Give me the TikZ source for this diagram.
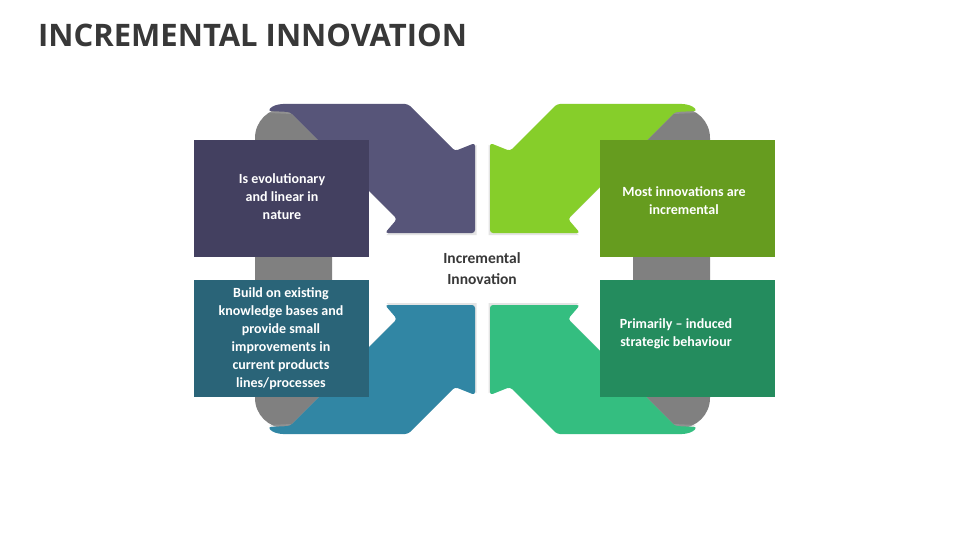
\documentclass[tikz,border=0pt]{standalone}
\usepackage{fontspec}
\setmainfont{Carlito}
\newfontfamily\titlefont{Open Sans}
\begin{document}
\begin{tikzpicture}[x=1pt,y=-1pt,
  box/.style={inner sep=0pt, minimum width=175pt, minimum height=117pt, anchor=north west},
  txt/.style={text=white, font=\bfseries\fontsize{14}{18}\selectfont, align=center},
  pillar/.style={fill=gray!95!black, rounded corners=30pt}]
\fill[white] (0,0) rectangle (960,540);
\useasboundingbox (0,0) rectangle (960,540);
\node[anchor=west, text=black!78, font=\titlefont\bfseries\fontsize{31}{36}\selectfont, inner sep=0pt] (title) at (38,35) {INCREMENTAL INNOVATION};
% gray pillars
\fill[pillar, fill=gray] (255,108) rectangle (332,428);
\fill[pillar, fill=gray] (633,108) rectangle (710,428);
\newcommand\myarrow[1]{%
  \fill[black!30, opacity=0.35, xshift=1.5pt, yshift=-2pt] (408,104) -- (455,151) -- (475,143) -- (475,233) -- (385,233) -- (397,219) -- (290,112) -- (268,111) .. controls (272,106) and (278,104) .. (286,104) -- cycle;
  \fill[#1, rounded corners=3pt] (408,104) -- (455,151) -- (475,143) -- (475,233) -- (385,233) -- (397,219) -- (290,112) -- (268,111) .. controls (272,106) and (278,104) .. (286,104) -- cycle;}
\definecolor{cTLa}{HTML}{575579}\definecolor{cTLb}{HTML}{434060}
\definecolor{cTRa}{HTML}{86CE2A}\definecolor{cTRb}{HTML}{669C1F}
\definecolor{cBLa}{HTML}{3186A4}\definecolor{cBLb}{HTML}{2A6478}
\definecolor{cBRa}{HTML}{34BE80}\definecolor{cBRb}{HTML}{248C5E}
\myarrow{cTLa}
\begin{scope}[shift={(965,0)}, xscale=-1]\myarrow{cTRa}\end{scope}
\begin{scope}[shift={(0,538)}, yscale=-1]\myarrow{cBLa}\end{scope}
\begin{scope}[shift={(965,538)}, xscale=-1, yscale=-1]\myarrow{cBRa}\end{scope}
% boxes
\node[box, fill=cTLb] (tl) at (194,140) {};
\node[box, fill=cTRb] (tr) at (600,140) {};
\node[box, fill=cBLb] (bl) at (194,280) {};
\node[box, fill=cBRb] (br) at (600,280) {};
\node[txt] (tlt) at (282,197) {Is evolutionary\\and linear in\\nature};
\node[txt] (trt) at (684,201) {Most innovations are\\incremental};
\node[txt] (blt) at (281,339) {Build on existing\\knowledge bases and\\provide small\\improvements in\\current products\\lines/processes};
\node[txt] (brt) at (676,334) {Primarily -- induced\\strategic behaviour};
\node[text=black!78, font=\bfseries\fontsize{15.5}{21}\selectfont, align=center] (c) at (482,269) {Incremental\\Innovation};
\end{tikzpicture}
\end{document}
